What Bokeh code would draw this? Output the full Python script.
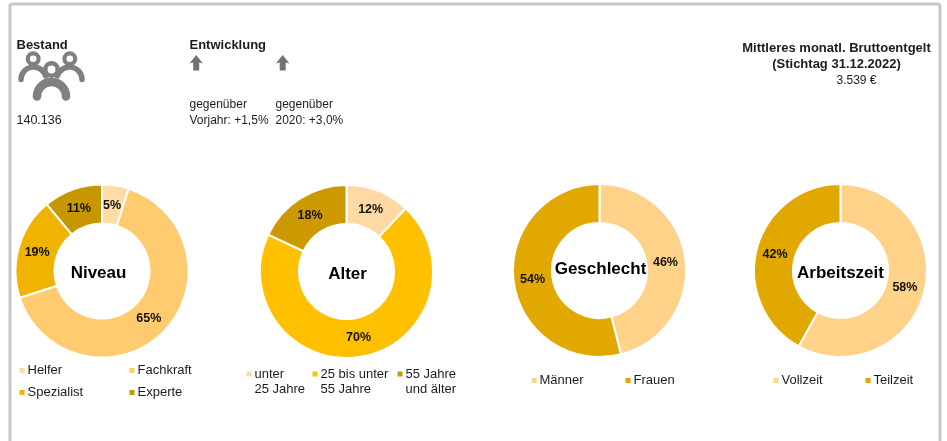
from math import pi, sin, cos
from bokeh.plotting import figure
from bokeh.embed import file_html
from bokeh.resources import INLINE
from bokeh.core.properties import value

W, H = 947, 441
FONT = "Liberation Sans"

niveau_labels = ["Helfer", "Fachkraft", "Spezialist", "Experte"]
niveau_values = [5, 65, 19, 11]
alter_labels = ["unter\n25 Jahre", "25 bis unter\n55 Jahre", "55 Jahre\nund älter"]
alter_values = [12, 70, 18]
geschlecht_labels = ["Männer", "Frauen"]
geschlecht_values = [46, 54]
arbeitszeit_labels = ["Vollzeit", "Teilzeit"]
arbeitszeit_values = [58, 42]

niveau_colors = ["#FFDBA6", "#FFCB6E", "#F0B400", "#C89600"]
alter_colors = ["#FFD9A3", "#FFC000", "#CC9900"]
geschlecht_colors = ["#FFD28A", "#E0A800"]
arbeitszeit_colors = ["#FFD28A", "#E0A800"]

p = figure(width=W, height=H, x_range=(0, W), y_range=(0, H), toolbar_location=None,
           output_backend="svg", min_border=0, outline_line_color=None,
           styles={"position": "fixed", "left": "0px", "top": "0px"})
p.axis.visible = False
p.grid.visible = False
p.background_fill_color = "white"


def Y(v):
    return H - v


def txt(x, y, s, size=12, bold=False, align="left", color="#1c1c1c"):
    p.text([x], [Y(y)], text=[s], text_font=value(FONT), text_font_size=f"{size}px",
           text_font_style="bold" if bold else "normal", text_align=align,
           text_baseline="middle", text_color=color)


FRAME = "#C8C8C8"
p.line([9.5, 9.5], [Y(445), Y(3.5)], line_color=FRAME, line_width=3)
p.line([9.5, 939.5], [Y(3.5), Y(3.5)], line_color=FRAME, line_width=3)
p.line([939.5, 939.5], [Y(3.5), Y(445)], line_color=FRAME, line_width=3)

R_OUT, R_IN = 86.5, 47.5


def donut(cx, cy, values, colors):
    total = sum(values)
    acc = 0
    for v, c in zip(values, colors):
        a0 = pi / 2 - 2 * pi * acc / total
        a1 = pi / 2 - 2 * pi * (acc + v) / total
        p.annular_wedge([cx], [Y(cy)], inner_radius=R_IN, outer_radius=R_OUT, start_angle=a1,
                        end_angle=a0, fill_color=c, line_color="white", line_width=2)
        mid = (a0 + a1) / 2
        rm = (R_IN + R_OUT) / 2
        txt(cx + rm * cos(mid) - 0.5, cy - rm * sin(mid), f"{v}%", 12.5, True, "center", "#111111")
        acc += v


donut(101.5, 270.5, niveau_values, niveau_colors)
donut(346, 271, alter_values, alter_colors)
donut(599, 270, geschlecht_values, geschlecht_colors)
donut(840, 270, arbeitszeit_values, arbeitszeit_colors)

txt(98, 272, "Niveau", 17, True, "center", "black")
txt(347, 273, "Alter", 17, True, "center", "black")
txt(600, 268, "Geschlecht", 17, True, "center", "black")
txt(840, 272, "Arbeitszeit", 17, True, "center", "black")


def legend(entries, colors, xs, ys):
    for s, c, x, y in zip(entries, colors, xs, ys):
        p.rect([x + 2.5], [Y(y)], width=5, height=5, fill_color=c, line_color=None)
        lines = s.split("\n")
        for i, ln in enumerate(lines):
            txt(x + 8, y - 1 + 15 * i, ln, 13)


legend(niveau_labels, niveau_colors, [19, 129, 19, 129], [370, 370, 392, 392])
legend(alter_labels, alter_colors, [246, 312, 397], [373.5, 373.5, 373.5])
legend(geschlecht_labels, geschlecht_colors, [531, 625], [380, 380])
legend(arbeitszeit_labels, arbeitszeit_colors, [773, 865], [380, 380])

txt(16, 43.5, "Bestand", 13, True)
txt(16, 118.5, "140.136", 12.5)
txt(189, 43.5, "Entwicklung", 13, True)
txt(189, 103.5, "gegenüber", 12)
txt(189, 119.5, "Vorjahr: +1,5%", 12)
txt(275, 103.5, "gegenüber", 12)
txt(275, 119.5, "2020: +3,0%", 12)
txt(836, 46.5, "Mittleres monatl. Bruttoentgelt", 13, True, "center")
txt(836, 62.5, "(Stichtag 31.12.2022)", 13, True, "center")
txt(856, 79.5, "3.539 €", 12, False, "center")

# people icon
GREY = "#808080"
for hx, hy, ro, ri in [(32.7, 58.3, 7.5, 3.3), (69.3, 58.3, 7.5, 3.3), (51, 69, 8.5, 4)]:
    p.annular_wedge([hx], [Y(hy)], inner_radius=ri, outer_radius=ro, start_angle=0,
                    end_angle=2 * pi, fill_color=GREY, line_color=None)
p.arc([51], [Y(96)], radius=14.5, start_angle=0, end_angle=pi, line_color=GREY, line_width=8.5,
      line_cap="round")
p.arc([33], [Y(79)], radius=12.5, start_angle=0.3, end_angle=pi, line_color=GREY,
      line_width=5.5, line_cap="round")
p.arc([69], [Y(79)], radius=12.5, start_angle=0, end_angle=pi - 0.3, line_color=GREY,
      line_width=5.5, line_cap="round")

# arrows
for ax in (195.7, 282.2):
    p.patch([ax - 6.8, ax, ax + 6.8, ax + 3, ax + 3, ax - 3, ax - 3],
            [Y(63), Y(54.5), Y(63), Y(62), Y(70), Y(70), Y(62)],
            fill_color="#737373", line_color=None)

open("out.html", "w").write(file_html(p, INLINE))
